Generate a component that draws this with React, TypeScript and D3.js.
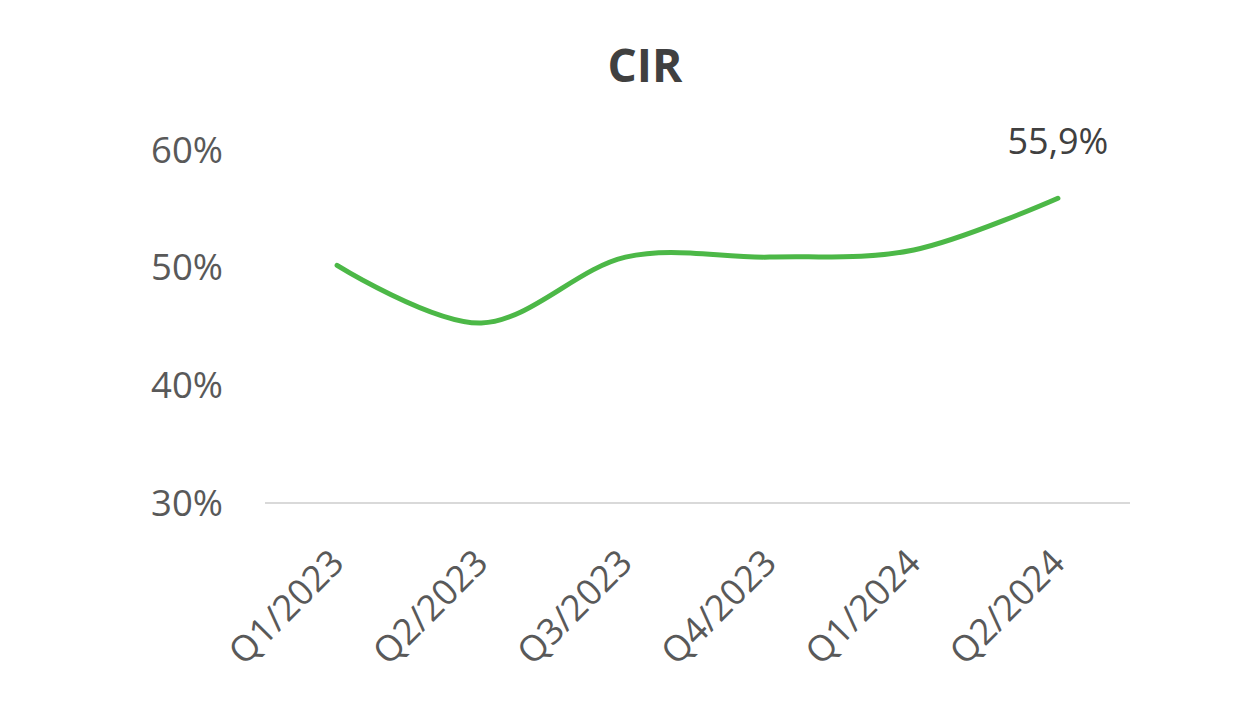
import React from "react";
import * as d3 from "d3";

const categories = ["Q1/2023", "Q2/2023", "Q3/2023", "Q4/2023", "Q1/2024", "Q2/2024"];
const cirValues = [50.2, 45.3, 50.9, 50.9, 51.5, 55.9];
const yTicks = [30, 40, 50, 60];
const lastLabel = "55,9%";

export default function App() {
  const W = 1242, H = 712;
  const x = d3.scalePoint<string>().domain(categories).range([265, 1130]).padding(0.5);
  const y = d3.scaleLinear().domain([30, 60]).range([503, 150]);
  const line = d3
    .line<number>()
    .x((_, i) => x(categories[i]) as number)
    .y((d) => y(d))
    .curve(d3.curveCardinal.tension(0));
  const font = "'Open Sans', 'Segoe UI', sans-serif";
  const lastX = x(categories[categories.length - 1]) as number;
  const lastY = y(cirValues[cirValues.length - 1]);
  return (
    <svg width={W} height={H} style={{ position: "absolute", left: 0, top: 0, background: "#fff" }} fontFamily={font}>
      <text x={645} y={82} textAnchor="middle" fontSize={46} fontWeight="bold" fill="#404040">CIR</text>
      <line x1={265} x2={1130} y1={y(30)} y2={y(30)} stroke="#d9d9d9" strokeWidth={2} />
      {yTicks.map((t) => (
        <text key={t} x={223} y={y(t)} dy="0.35em" textAnchor="end" fontSize={36.5} fill="#595959">
          {t}%
        </text>
      ))}
      {categories.map((c) => (
        <text
          key={c}
          transform={`translate(${x(c)},556) rotate(-45)`}
          dy="0.35em"
          textAnchor="end"
          fontSize={36}
          fill="#595959"
        >
          {c}
        </text>
      ))}
      <path d={line(cirValues) || ""} fill="none" stroke="#4cb847" strokeWidth={5} strokeLinecap="round" />
      <text x={lastX} y={lastY - 44} textAnchor="middle" fontSize={36} fill="#404040">{lastLabel}</text>
    </svg>
  );
}
